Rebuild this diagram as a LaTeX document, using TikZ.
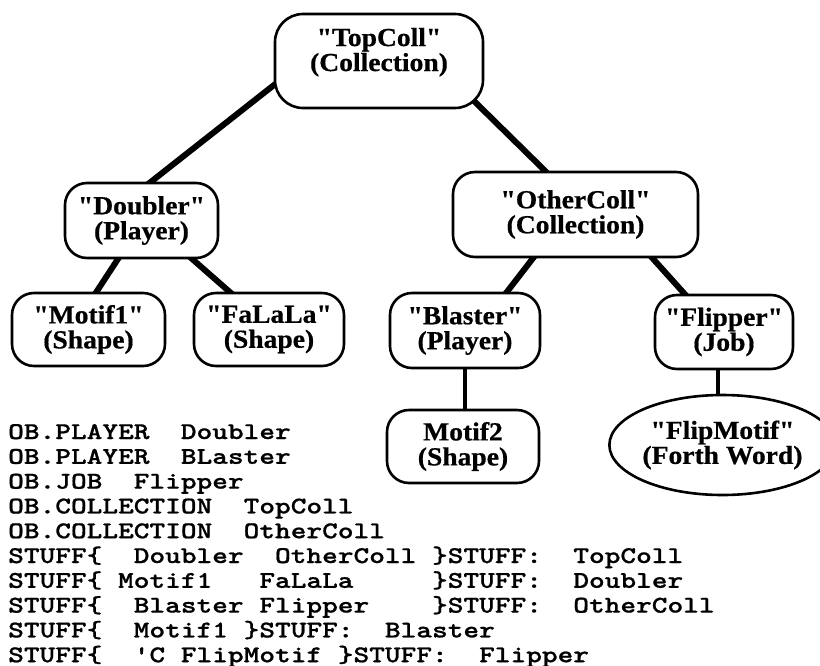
\documentclass[tikz,border=0pt]{standalone}
\usepackage{fontspec}
\usetikzlibrary{shapes.geometric,calc}
\newfontfamily\boxfont{Liberation Serif}[FakeStretch=1.06,Ligatures=TeXOff,BoldFeatures={FakeBold=0.6}]
\newfontfamily\codefont{lmmonolt10-bold.otf}[FakeStretch=1.246,FakeBold=0.8,Ligatures=TeXOff]
\pgfdeclarelayer{background}
\pgfsetlayers{background,main}
\begin{document}
\begin{tikzpicture}[x=1pt,y=-1pt,
  box/.style={draw, line width=2.6pt, fill=white, rounded corners=22pt, inner sep=0pt,
    align=center, font=\boxfont\bfseries\fontsize{26}{25}\selectfont},
  oval/.style={ellipse, draw, line width=2.6pt, fill=white, inner sep=0pt,
    align=center, font=\boxfont\bfseries\fontsize{26}{25}\selectfont},
  edge/.style={line width=6pt},
  stem/.style={line width=4pt},
  code/.style={anchor=base west, inner sep=0pt, font=\codefont\fontsize{24}{24}\selectfont}]
\useasboundingbox (0,0) rectangle (820,665);

\node[box, rounded corners=28pt, minimum width=208pt, minimum height=94pt] (top) at (379,61) {"TopColl"\\(Collection)\\[-2pt]~};
\node[box, minimum width=153pt, minimum height=75pt] (doubler) at (141.5,220.5) {"Doubler"\\(Player)};
\node[box, minimum width=245pt, minimum height=85pt] (other) at (575.5,214.5) {"OtherColl"\\(Collection)};
\node[box, minimum width=153pt, minimum height=73pt] (motif1) at (88.5,329.5) {"Motif1"\\(Shape)};
\node[box, minimum width=150pt, minimum height=73pt] (falala) at (269,329.5) {"FaLaLa"\\(Shape)};
\node[box, minimum width=150pt, minimum height=75pt] (blaster) at (465,330.5) {"Blaster"\\(Player)};
\node[box, minimum width=138pt, minimum height=74pt] (flipper) at (724,332) {"Flipper"\\(Job)};
\node[box, minimum width=152pt, minimum height=73pt] (motif2) at (463,446.5) {Motif2\\(Shape)};
\node[oval, minimum width=191pt, minimum height=100pt] (flipmotif) at (722.5,445) {"FlipMotif"\\(Forth Word)};

\begin{pgfonlayer}{background}
\draw[edge] ($(top.south west)+(5,-28)$) -- ($(doubler.north)+(4.5,4)$);
\draw[edge] ($(top.south east)+(-12,-10)$) -- ($(other.north)+(-25.5,5)$);
\draw[edge] ($(doubler.south)+(-20.5,-5)$) -- ($(motif1.north)+(3.5,7)$);
\draw[edge] ($(doubler.south)+(46.5,-4)$) -- ($(falala.north)+(-35,4)$);
\draw[edge] ($(other.south)+(-39.5,-4)$) -- ($(blaster.north)+(39,4)$);
\draw[edge] ($(other.south)+(73.5,-4)$) -- ($(flipper.north)+(-36,4)$);
\draw[stem] ($(blaster.south)+(0,-3)$) -- ($(blaster.south |- motif2.north)+(0,3)$);
\draw[stem] ($(flipper.south)+(-6,-3)$) -- ($(flipmotif.north)+(-4.5,3)$);
\end{pgfonlayer}

\node[code] (l1) at (8,439) {OB.PLAYER~~Doubler};
\node[code] (l2) at (8,463.8) {OB.PLAYER~~BLaster};
\node[code] (l3) at (8,488.6) {OB.JOB~~Flipper};
\node[code] (l4) at (8,513.4) {OB.COLLECTION~~TopColl};
\node[code] (l5) at (8,538.2) {OB.COLLECTION~~OtherColl};
\node[code] (l6) at (8,563) {STUFF\{~~Doubler~~OtherColl~\}STUFF:~~TopColl};
\node[code] (l7) at (8,587.8) {STUFF\{~Motif1~~~FaLaLa~~~~~\}STUFF:~~Doubler};
\node[code] (l8) at (8,612.6) {STUFF\{~~Blaster~Flipper~~~~\}STUFF:~~OtherColl};
\node[code] (l9) at (8,637.4) {STUFF\{~~Motif1~\}STUFF:~~Blaster};
\node[code] (l10) at (8,662.2) {STUFF\{~~'C~FlipMotif~\}STUFF:~~Flipper};
\end{tikzpicture}
\end{document}
